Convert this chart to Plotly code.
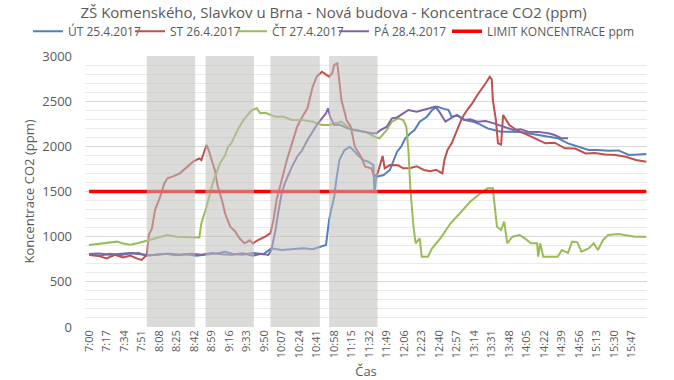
import plotly.graph_objects as go

# ---------------- data ----------------
tick_labels = ["7:00", "7:17", "7:34", "7:51", "8:08", "8:25", "8:42", "8:59", "9:16", "9:33",
               "9:50", "10:07", "10:24", "10:41", "10:58", "11:15", "11:32", "11:49", "12:06",
               "12:23", "12:40", "12:57", "13:14", "13:31", "13:48", "14:05", "14:22", "14:39",
               "14:56", "15:13", "15:30", "15:47"]

# lesson periods (shaded bands)
band_start = ["7:56", "8:53", "9:56", "10:53"]
band_end = ["8:43", "9:40", "10:44", "11:40"]

ut_time = ["7:00", "7:10", "7:20", "7:30", "7:40", "7:48", "7:55", "8:05", "8:15", "8:24", "8:34",
           "8:44", "8:54", "9:04", "9:12", "9:19", "9:29", "9:39", "9:49", "9:57", "10:07", "10:17",
           "10:28", "10:37", "10:46", "10:50", "10:51", "10:53", "10:55", "10:58", "11:00", "11:03",
           "11:08", "11:13", "11:18", "11:21", "11:26", "11:31", "11:36", "11:37", "11:39", "11:46",
           "11:52", "11:55", "11:59", "12:03", "12:07", "12:12", "12:16", "12:21", "12:28", "12:33",
           "12:38", "12:43", "12:49", "12:52", "12:58", "13:05", "13:13", "13:20", "13:27", "13:33",
           "13:40", "13:48", "13:57", "14:06", "14:16", "14:26", "14:35", "14:45", "14:55", "15:05",
           "15:14", "15:24", "15:34", "15:44", "15:54", "16:01"]
ut_ppm = [800, 790, 810, 795, 815, 820, 790, 800, 810, 795, 805,
          790, 800, 815, 834, 810, 800, 820, 805, 871, 852, 860,
          871, 860, 889, 908, 1000, 1184, 1295, 1442, 1627, 1849,
          1959, 1996, 1941, 1900, 1849, 1830, 1793, 1480, 1664, 1682,
          1738, 1830, 1941, 1996, 2089, 2144, 2181, 2273, 2328, 2402,
          2439, 2420, 2402, 2328, 2340, 2291, 2273, 2240, 2199, 2180,
          2162, 2162, 2160, 2144, 2125, 2107, 2090, 2033, 1996, 1959,
          1960, 1950, 1955, 1904, 1910, 1915]

st_time = ["7:00", "7:08", "7:17", "7:25", "7:33", "7:40", "7:46", "7:51", "7:56", "7:58", "8:01",
           "8:04", "8:09", "8:13", "8:16", "8:21", "8:28", "8:34", "8:41", "8:47", "8:49", "8:54",
           "8:56", "8:59", "9:02", "9:05", "9:09", "9:12", "9:15", "9:17", "9:22", "9:26", "9:31",
           "9:36", "9:39", "9:44", "9:51", "9:56", "9:59", "10:02", "10:07", "10:12", "10:17",
           "10:22", "10:27", "10:32", "10:37", "10:41", "10:46", "10:49", "10:53", "10:56", "10:58",
           "11:01", "11:03", "11:05", "11:10", "11:14", "11:18", "11:24", "11:28", "11:34", "11:37",
           "11:40", "11:42", "11:45", "11:47", "11:52", "12:00", "12:05", "12:12", "12:18", "12:25",
           "12:31", "12:37", "12:43", "12:45", "12:48", "12:52", "12:57", "13:02", "13:07", "13:12",
           "13:17", "13:22", "13:25", "13:29", "13:31", "13:32", "13:35", "13:37", "13:40", "13:42",
           "13:45", "13:48", "13:55", "14:03", "14:13", "14:23", "14:32", "14:42", "14:52", "15:02",
           "15:11", "15:21", "15:31", "15:41", "15:51", "16:01"]
st_ppm = [797, 790, 760, 800, 770, 790, 760, 742, 797, 1018, 1092,
          1295, 1442, 1590, 1646, 1664, 1701, 1757, 1830, 1867, 1849, 2015,
          1960, 1849, 1738, 1553, 1406, 1259, 1160, 1110, 1055, 982, 926,
          960, 926, 963, 1000, 1037, 1184, 1406, 1627, 1849, 2033,
          2217, 2328, 2421, 2660, 2771, 2826, 2800, 2771, 2810, 2900,
          2919, 2734, 2513, 2291, 2217, 1996, 1885, 1775, 1757, 1664,
          1700, 1775, 1893, 1757, 1793, 1790, 1757, 1760, 1780, 1738,
          1725, 1740, 1701, 1849, 1959, 2033, 2181, 2310, 2402, 2476,
          2568, 2642, 2698, 2771, 2740, 2513, 2291, 2033, 2020, 2347,
          2291, 2236, 2181, 2144, 2089, 2033, 2040, 1978, 1975, 1922,
          1925, 1910, 1904, 1885, 1849, 1830]

ct_time = ["7:00", "7:10", "7:20", "7:27", "7:33", "7:40", "7:48", "7:56", "8:06", "8:16", "8:25",
           "8:35", "8:43", "8:47", "8:49", "8:54", "9:00", "9:07", "9:12", "9:15", "9:18", "9:25",
           "9:31", "9:38", "9:43", "9:46", "9:51", "10:01", "10:09", "10:17", "10:27", "10:37",
           "10:46", "10:53", "11:05", "11:15", "11:28", "11:37", "11:42", "11:49", "11:54", "12:00",
           "12:05", "12:08", "12:10", "12:12", "12:15", "12:17", "12:21", "12:23", "12:29", "12:33",
           "12:41", "12:51", "13:00", "13:10", "13:20", "13:27", "13:32", "13:34", "13:36", "13:40",
           "13:43", "13:46", "13:51", "13:58", "14:03", "14:09", "14:15", "14:16", "14:18", "14:21",
           "14:35", "14:39", "14:45", "14:49", "14:54", "14:58", "15:05", "15:10", "15:14", "15:19",
           "15:24", "15:34", "15:44", "15:50", "16:01"]
ct_ppm = [908, 920, 935, 945, 925, 910, 930, 955, 990, 1018, 1000,
          995, 985, 990, 1150, 1332, 1590, 1812, 1900, 1996, 2033, 2200,
          2310, 2402, 2421, 2366, 2372, 2328, 2328, 2291, 2291, 2273,
          2236, 2236, 2273, 2181, 2162, 2107, 2089, 2181, 2273, 2310,
          2291, 2217, 1959, 1516, 1110, 926, 982, 778, 778, 871,
          982, 1148, 1259, 1387, 1480, 1535, 1535, 1332, 1110, 1074,
          1166, 926, 1000, 1018, 982, 926, 926, 778, 926, 778,
          778, 852, 820, 945, 940, 834, 870, 926, 852, 963,
          1018, 1030, 1010, 1000, 1000]

pa_time = ["7:00", "7:10", "7:20", "7:30", "7:40", "7:50", "8:00", "8:10", "8:19", "8:29", "8:39",
           "8:49", "8:59", "9:09", "9:19", "9:29", "9:39", "9:47", "9:54", "9:57", "10:01", "10:04",
           "10:07", "10:10", "10:14", "10:17", "10:22", "10:27", "10:32", "10:37", "10:41", "10:46",
           "10:50", "10:52", "10:54", "10:58", "11:03", "11:11", "11:19", "11:28", "11:34", "11:39",
           "11:43", "11:49", "11:54", "11:59", "12:05", "12:10", "12:18", "12:24", "12:31", "12:36",
           "12:40", "12:46", "12:51", "12:57", "13:04", "13:10", "13:17", "13:25", "13:33", "13:42",
           "13:52", "13:59", "14:06", "14:16", "14:26", "14:32", "14:39", "14:45"]
pa_ppm = [808, 815, 800, 810, 820, 805, 795, 805, 810, 800, 810,
          800, 820, 805, 800, 815, 790, 810, 797, 852, 1074, 1295,
          1480, 1590, 1701, 1775, 1885, 1959, 2070, 2162, 2236, 2310,
          2366, 2421, 2328, 2236, 2240, 2199, 2181, 2162, 2144, 2144,
          2180, 2217, 2310, 2320, 2366, 2402, 2384, 2400, 2421, 2439,
          2384, 2273, 2310, 2347, 2291, 2300, 2273, 2280, 2254, 2217,
          2181, 2190, 2162, 2160, 2144, 2125, 2089, 2089]

limit_time = ["7:00", "16:01"]
limit_ppm = [1500, 1500]

series_names = ["ÚT 25.4.2017", "ST 26.4.2017", "ČT 27.4.2017", "PÁ 28.4.2017", "LIMIT KONCENTRACE ppm"]
series_colors = ["#4F81BD", "#C0504D", "#9BBB59", "#8064A2", "#FF0000"]


def to_min(t):
    h, m = t.split(":")
    return (int(h) - 7) * 60 + int(m)


fig = go.Figure()
all_series = [(ut_time, ut_ppm), (st_time, st_ppm), (ct_time, ct_ppm), (pa_time, pa_ppm),
              (limit_time, limit_ppm)]
legend_ids = ["legend", "legend2", "legend3", "legend4", "legend5"]
legend_x = [0.0415, 0.1929, 0.3442, 0.4955, 0.6632]
for i, (tt, vv) in enumerate(all_series):
    fig.add_trace(go.Scatter(
        x=[to_min(t) for t in tt], y=vv, mode="lines", name=series_names[i],
        line=dict(color=series_colors[i], width=3.5 if i == 4 else 2),
        legend=legend_ids[i], hoverinfo="skip"))

for s, e in zip(band_start, band_end):
    fig.add_shape(type="rect", xref="x", yref="y", x0=to_min(s), x1=to_min(e), y0=0, y1=3000,
                  fillcolor="rgba(190,190,188,0.55)", line=dict(width=0), layer="above")

font_family = "Open Sans, Liberation Sans, sans-serif"
legend_common = dict(orientation="h", xref="container", xanchor="left", y=0.918,
                     yref="container", yanchor="middle", font=dict(size=12, color="#595959"),
                     itemwidth=30, bgcolor="rgba(0,0,0,0)", tracegroupgap=0)
fig.update_layout(
    width=674, height=380,
    margin=dict(l=85, r=27, t=56, b=53),
    paper_bgcolor="white", plot_bgcolor="white",
    font=dict(family=font_family, color="#595959"),
    title=dict(text="ZŠ Komenského, Slavkov u Brna - Nová budova - Koncentrace CO2 (ppm)",
               x=0.495, xref="container", xanchor="center", y=0.98, yanchor="top",
               font=dict(size=15, color="#595959")),
    showlegend=True,
)
fig.update_layout({lid: dict(x=lx, **legend_common) for lid, lx in zip(legend_ids, legend_x)})
fig.update_xaxes(
    range=[-4, 541.7], tickmode="array",
    tickvals=[to_min(t) for t in tick_labels], ticktext=tick_labels,
    tickangle=-90, tickfont=dict(size=11, color="#595959"),
    showgrid=False, zeroline=False, showline=False, ticks="", automargin=False,
    title=dict(text="Čas", font=dict(size=13, color="#595959"), standoff=12),
)
fig.update_yaxes(
    range=[0, 3000], dtick=500, tickfont=dict(size=13, color="#595959"),
    showgrid=True, gridcolor="#d9d9d9", gridwidth=1, zeroline=False, showline=False,
    minor=dict(dtick=100, showgrid=True, gridcolor="#eaeaea", gridwidth=1),
    ticks="", ticklabelstandoff=12, automargin=False,
    title=dict(text="Koncentrace CO2 (ppm)", font=dict(size=13, color="#595959"), standoff=4),
)

fig.write_html("out.html", config={"displayModeBar": False},
               post_script="document.body.style.margin='0';")
